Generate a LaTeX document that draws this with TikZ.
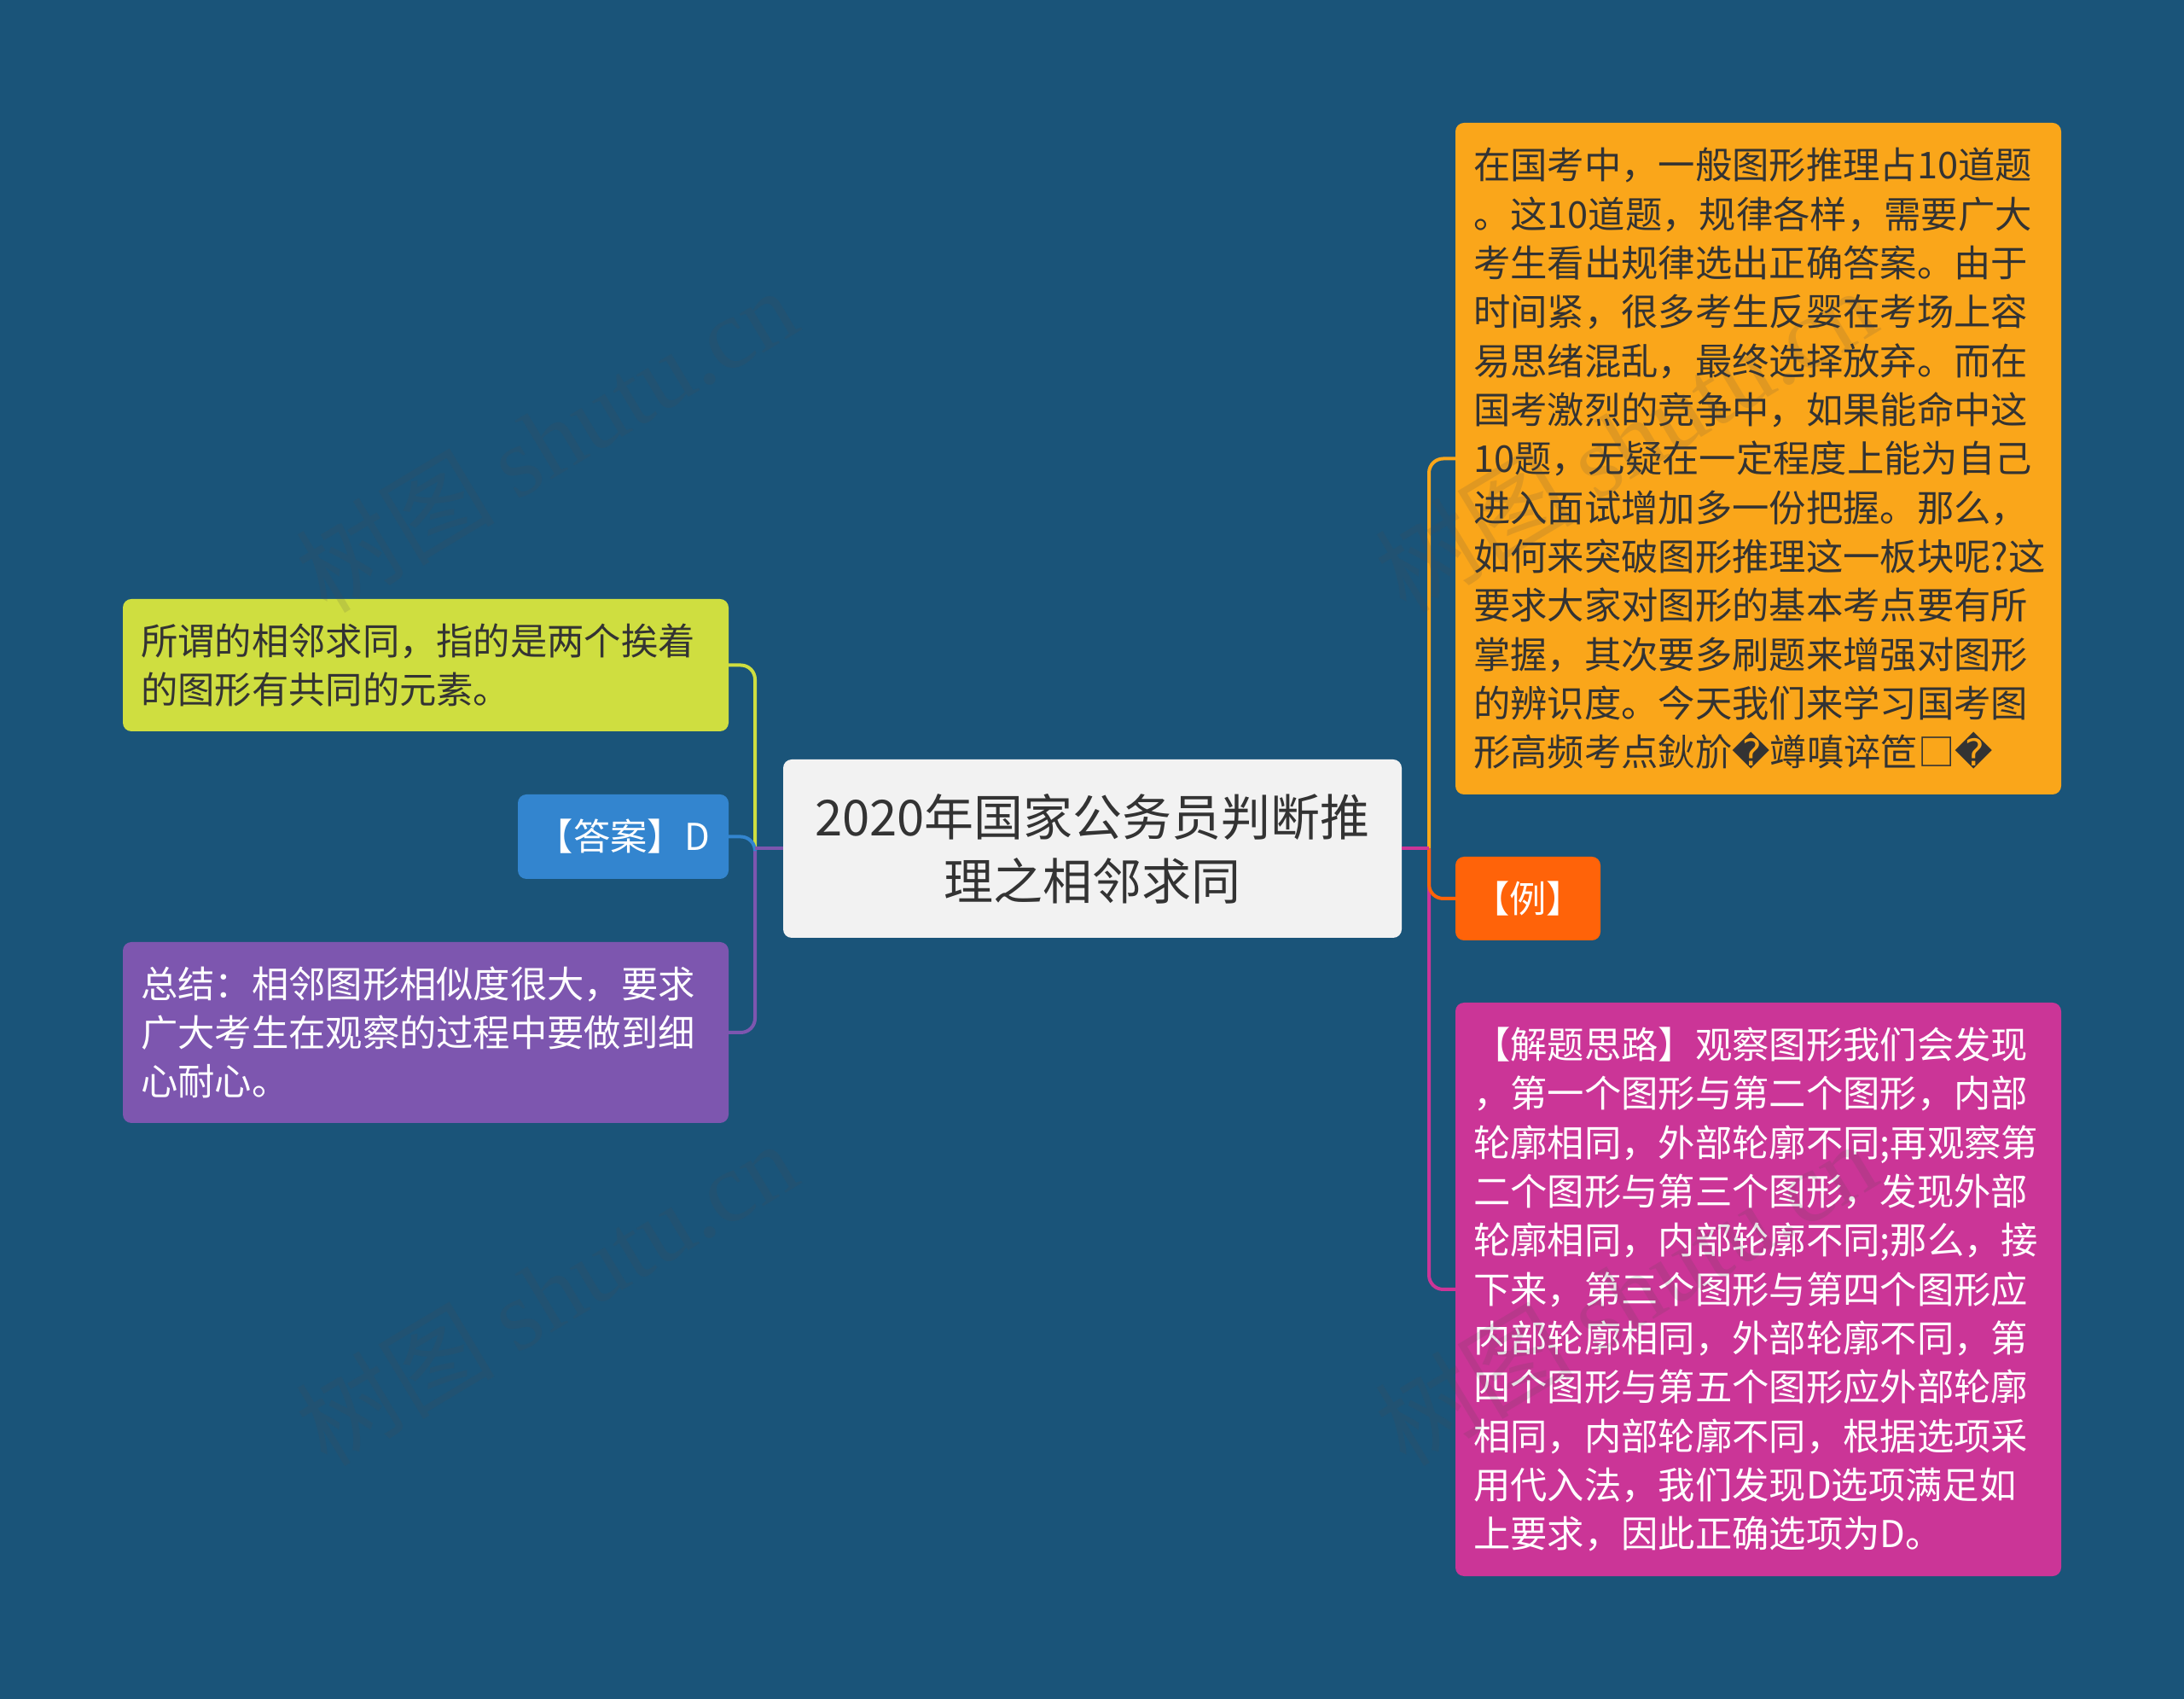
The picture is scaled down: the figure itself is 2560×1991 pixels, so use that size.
\documentclass[tikz,border=0pt]{standalone}
\usepackage{fontspec}
\setmainfont{Noto Sans CJK SC}
\newfontfamily\dejavu{DejaVu Sans}
\newfontfamily\wmserif{Liberation Serif}
\definecolor{bg}{HTML}{1A5479}
\definecolor{centralfill}{HTML}{F2F2F2}
\definecolor{txtdark}{HTML}{333333}
\definecolor{orangeA}{HTML}{FAA61A}
\definecolor{redorange}{HTML}{FF6309}
\definecolor{pinkA}{HTML}{CB3597}
\definecolor{yellowA}{HTML}{CFDE40}
\definecolor{blueA}{HTML}{3385CF}
\definecolor{purpleA}{HTML}{7D56AF}
\begin{document}
\begin{tikzpicture}[x=0.3pt,y=-0.3pt,
  box/.style={rounded corners=3pt, inner ysep=0pt, outer sep=0pt},
  smalltxt/.style={font=\fontsize{13pt}{17.2pt}\selectfont},
  wide/.style={box, smalltxt, text width=200.4pt, inner xsep=6.3pt, minimum width=213pt, align=left},
  link/.style={line width=1.2pt, rounded corners=5pt},
  stub/.style={line width=1.2pt},
  wm/.style={text=black!70, opacity=0.15, font=\fontsize{35pt}{35pt}\selectfont, rotate=31, inner sep=0pt}
]
\fill[bg] (0,0) rectangle (2560,1991);
\useasboundingbox (0,0) rectangle (2560,1991);

% central
\node[box, fill=centralfill, text=txtdark, minimum width=217.5pt, minimum height=62.7pt, inner xsep=0pt,
      align=center, font=\fontsize{17.4pt}{22.5pt}\selectfont] (central) at (1280.5,994.5)
  {2020年国家公务员判断推\\理之相邻求同};

% right children
\node[wide, fill=orangeA, text=txtdark, minimum height=236.1pt] (intro) at (2061,537.5)
  {在国考中，一般图形推理占10道题\\
   。这10道题，规律各样，需要广大\\
   考生看出规律选出正确答案。由于\\
   时间紧，很多考生反婴在考场上容\\
   易思绪混乱，最终选择放弃。而在\\
   国考激烈的竞争中，如果能命中这\\
   10题，无疑在一定程度上能为自己\\
   进入面试增加多一份把握。那么，\\
   如何来突破图形推理这一板块呢?这\\
   要求大家对图形的基本考点要有所\\
   掌握，其次要多刷题来增强对图形\\
   的辨识度。今天我们来学习国考图\\
   形高频考点鈥斺{\dejavu �}竴嗔谇笸□{\dejavu �}};

\node[box, smalltxt, fill=redorange, text=white, minimum width=51pt, minimum height=29.4pt, inner xsep=0pt]
  (example) at (1791,1053) {【例】};

\node[wide, fill=pinkA, text=white, minimum height=201.6pt] (solution) at (2061,1511)
  {【解题思路】观察图形我们会发现\\
   ，第一个图形与第二个图形，内部\\
   轮廓相同，外部轮廓不同;再观察第\\
   二个图形与第三个图形，发现外部\\
   轮廓相同，内部轮廓不同;那么，接\\
   下来，第三个图形与第四个图形应\\
   内部轮廓相同，外部轮廓不同，第\\
   四个图形与第五个图形应外部轮廓\\
   相同，内部轮廓不同，根据选项采\\
   用代入法，我们发现D选项满足如\\
   上要求，因此正确选项为D。};

% left children
\node[wide, fill=yellowA, text=txtdark, minimum height=46.5pt] (define) at (499,779.5)
  {所谓的相邻求同，指的是两个挨着\\
   的图形有共同的元素。};

\node[box, smalltxt, fill=blueA, text=white, minimum width=74.1pt, minimum height=29.7pt, inner xsep=0pt]
  (answer) at (730.5,980.5) {【答案】D};

\node[wide, fill=purpleA, text=white, minimum height=63.6pt] (summary) at (499,1210)
  {总结：相邻图形相似度很大，要求\\
   广大考生在观察的过程中要做到细\\
   心耐心。};

% junction points
\coordinate (jl) at (885,994.5);
\coordinate (jr) at (1675,994.5);

% connectors, left
\draw[link, yellowA] (jl) |- (define.east);
\draw[link, purpleA] (jl) |- (summary.east);
\draw[link, blueA] (jl) |- (answer.east);
\draw[stub, purpleA] (central.west) -- (jl);

% connectors, right
\draw[link, orangeA] (jr) |- (intro.west);
\draw[link, pinkA] (jr) |- (solution.west);
\draw[link, redorange] (jr) |- (example.west);
\draw[stub, pinkA] (central.east) -- (jr);

% watermarks
\node[wm] (wm1) at (640,515) {树图 {\wmserif shutu.cn}};
\node[wm] (wm2) at (640,1515) {树图 {\wmserif shutu.cn}};
\node[wm] (wm3) at (1905,515) {树图 {\wmserif shutu.cn}};
\node[wm] (wm4) at (1905,1515) {树图 {\wmserif shutu.cn}};
\end{tikzpicture}
\end{document}
